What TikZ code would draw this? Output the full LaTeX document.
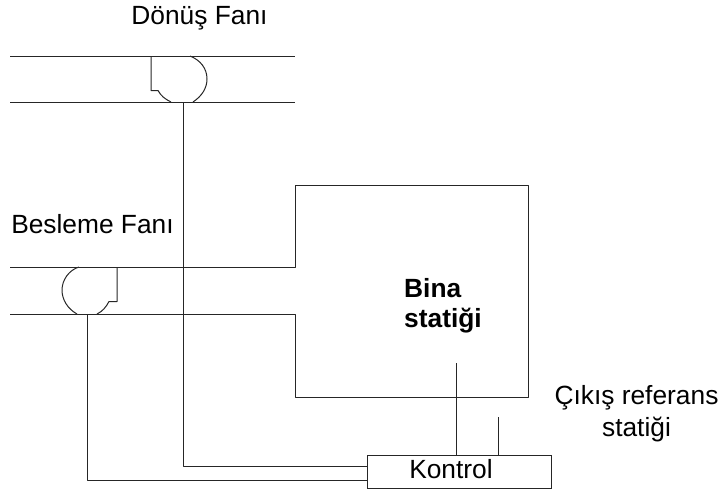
\documentclass[tikz,border=0pt]{standalone}
\usepackage{fontspec}
\setmainfont{Liberation Sans}
\tikzset{wire/.style={draw=black!85,line width=0.75pt,line join=round},
lab/.style={font=\fontsize{19.75}{24}\selectfont,align=center,inner sep=0pt,text=black},
ctrl/.style={draw=black!85,line width=0.75pt,minimum width=138pt,minimum height=24.75pt,inner sep=0pt}}
\begin{document}
\begin{tikzpicture}[x=0.75pt,y=-0.75pt]
\useasboundingbox (0,0) rectangle (721,494);
\node[ctrl] (K) at (459,471.5) {};
\node[lab] (kt) at (451,469) {Kontrol};
\coordinate (ka) at (367,466);
\coordinate (kb) at (367,480);
\coordinate (kc) at (456,455);
\coordinate (kd) at (498,455);
\coordinate (sa) at (456,363);
\coordinate (sb) at (498,417);
\coordinate (ra) at (183,102);
\coordinate (rb) at (183,466);
\coordinate (fa) at (87,314);
\coordinate (fb) at (87,480);
\draw[wire] (10,56) -- (295,56);
\draw[wire] (10,102) -- (295,102);
\draw[wire] (151,56) -- (151,90.5) -- (158,90.5) .. controls (161,96) and (165,99) .. (171,102);
\draw[wire] (193,102) .. controls (202,96) and (207,88) .. (207,79) .. controls (207,68) and (200,60) .. (190,56);
\draw[wire] (10,267) -- (295,267) -- (295,185) -- (528.5,185) -- (528.5,397.5) -- (295,397.5) -- (295,314) -- (10,314);
\draw[wire] (79,267) .. controls (69,270) and (62,280) .. (62,290) .. controls (62,300) and (68,309) .. (77,314);
\draw[wire] (97,314) .. controls (103,311) and (106,307) .. (109,301.5) -- (117,301.5) -- (117,267);
\draw[wire] (ra) -- (rb) -- (ka);
\draw[wire] (fa) -- (fb) -- (kb);
\draw[wire] (sa) -- (kc);
\draw[wire] (sb) -- (kd);
\node[lab] (t1) at (199.5,18) {Dönüş Fanı};
\node[lab] (t2) at (92.5,224) {Besleme Fanı};
\node[lab,font=\fontsize{19.75}{22.5}\selectfont\bfseries,align=left] (t3) at (443,306) {Bina\\statiği};
\node[lab] (t4) at (636.5,414) {Çıkış referans\\statiği};
\end{tikzpicture}
\end{document}
